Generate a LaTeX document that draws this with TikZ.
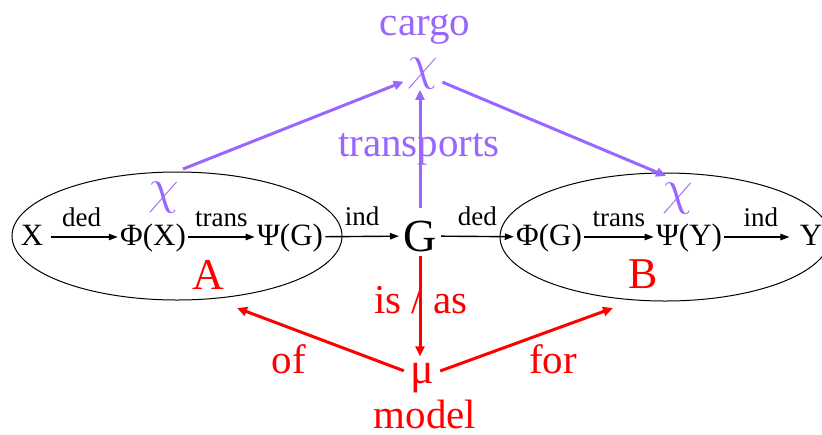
\documentclass[tikz,border=0pt]{standalone}
\usepackage{fontspec}
\setmainfont{Liberation Serif}
\usetikzlibrary{arrows.meta,shapes.geometric}
\definecolor{lilac}{HTML}{9966FF}
\definecolor{modelred}{HTML}{FF0000}

\begin{document}
\begin{tikzpicture}[x=0.5pt,y=-0.5pt]
    \tikzset{
      region/.style={ellipse,draw,line width=0.5pt,minimum width=165pt,minimum height=64pt,inner sep=0pt},
      term/.style={font=\fontsize{15.5}{18}\selectfont,text height=11pt,text depth=3pt,inner sep=1pt},
      tag/.style={font=\fontsize{13.5}{16}\selectfont,inner sep=1pt,above=4pt},
      maparrow/.style={-{Triangle[length=4.5pt,width=3.2pt]},line width=0.7pt},
      big/.style={font=\fontsize{20.5}{24}\selectfont,inner sep=0pt},
      greek/.style={font=\fontsize{26}{30}\selectfont,inner sep=1pt},
      carry/.style={draw=lilac,line width=1.5pt,-{Triangle[length=5pt,width=4.5pt]}},
      bind/.style={draw=modelred,line width=1.5pt,-{Triangle[length=5pt,width=4.5pt]}}
    }
    \useasboundingbox (0,0) rectangle (822,434);
    % the two regions
    \node[region] (regA) at (177,236) {};
    \node[region] (regB) at (665,237) {};
    % the chain
    \node[term] (x) at (32,237) {X};
    \node[term] (phiX) at (153,237) {Φ(X)};
    \node[term] (psiG) at (290,237) {Ψ(G)};
    \node[font=\fontsize{23}{27}\selectfont,inner sep=2pt] (g) at (420,236) {G};
    \node[term] (phiG) at (549,237) {Φ(G)};
    \node[term] (psiY) at (689,237) {Ψ(Y)};
    \node[term] (y) at (811,237) {Y};
    \draw[maparrow,shorten <=2.5pt] (x) -- node[tag] {ded} (phiX);
    \draw[maparrow] (phiX) -- node[tag] {trans} (psiG);
    \draw[maparrow] (psiG) -- node[tag] {ind} (g);
    \draw[maparrow] (g) -- node[tag] {ded} (phiG);
    \draw[maparrow] (phiG) -- node[tag] {trans} (psiY);
    \draw[maparrow,shorten >=4pt] (psiY) -- node[tag] {ind} (y);
    % cargo
    \node[greek,text=lilac] (chiA) at (164,198) {$\chi$};
    \node[greek,text=lilac] (chiB) at (678,199) {$\chi$};
    \node[greek,text=lilac,inner sep=0pt] (chiTop) at (423,74) {$\chi$};
    \node[big,text=lilac,anchor=base] (cargo) at (425,35) {cargo};
    \node[big,text=lilac,anchor=base] (transports) at (419,156) {transports};
    \coordinate (fromA) at (183,169);
    \coordinate (intoB) at (666,176);
    \draw[carry,shorten >=2pt] (fromA) -- (chiTop);
    \draw[carry,shorten <=2pt] (chiTop) -- (intoB);
    \draw[carry,shorten <=4pt] (g.north) -- (g.north |- chiTop.south);
    % model
    \node[font=\fontsize{22}{26}\selectfont,text=modelred] (a) at (208,275) {A};
    \node[font=\fontsize{22}{26}\selectfont,text=modelred] (b) at (643,274) {B};
    \node[font=\fontsize{22}{26}\selectfont,text=modelred,anchor=base,inner sep=3pt] (mu) at (422,383) {μ};
    \node[big,text=modelred,anchor=base] (isas) at (421,313) {is / as};
    \node[big,text=modelred,anchor=base] (of) at (289,373) {of};
    \node[big,text=modelred,anchor=base] (for) at (553,373) {for};
    \node[big,text=modelred,anchor=base] (model) at (425,428) {model};
    \coordinate (ofTip) at (237,308);
    \coordinate (forTip) at (613,308);
    \draw[bind] (g.south) -- (g.south |- mu.north);
    \draw[bind] (mu) -- (ofTip);
    \draw[bind] (mu) -- (forTip);
  \end{tikzpicture}
\end{document}
